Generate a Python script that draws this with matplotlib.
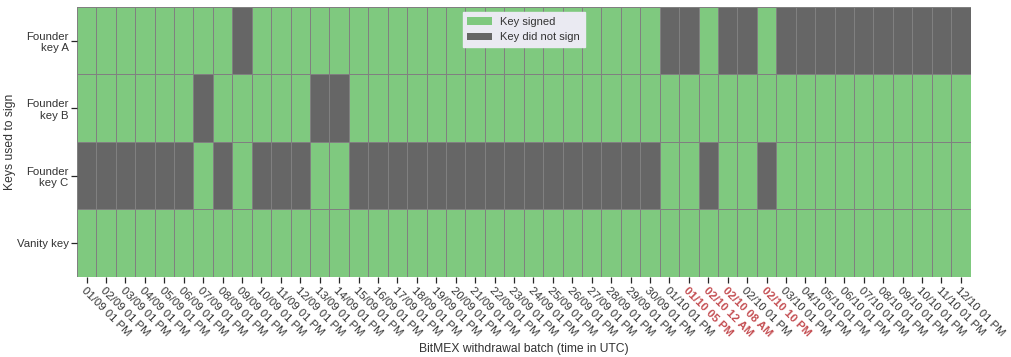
import numpy as np
import matplotlib
matplotlib.use('Agg')
import matplotlib.pyplot as plt
from matplotlib.colors import ListedColormap
from matplotlib.patches import Patch

# 行：签名用的密钥
keys = ['Founder\nkey A', 'Founder\nkey B', 'Founder\nkey C', 'Vanity key']

# 列：提现批次
batches = ['%02d/09 01 PM' % d for d in range(1, 31)]
batches += ['01/10 01 PM', '01/10 05 PM', '02/10 12 AM', '02/10 08 AM',
            '02/10 01 PM', '02/10 10 PM']
batches += ['%02d/10 01 PM' % d for d in range(3, 13)]

# 1 = 已签名, 0 = 未签名
key_a = [1, 1, 1, 1, 1, 1, 1, 1, 0, 1, 1, 1, 1, 1, 1, 1, 1, 1, 1, 1,
         1, 1, 1, 1, 1, 1, 1, 1, 1, 1, 0, 0, 1, 0, 0, 1, 0, 0, 0, 0,
         0, 0, 0, 0, 0, 0]
key_b = [1, 1, 1, 1, 1, 1, 0, 1, 1, 1, 1, 1, 0, 0, 1, 1, 1, 1, 1, 1,
         1, 1, 1, 1, 1, 1, 1, 1, 1, 1, 1, 1, 1, 1, 1, 1, 1, 1, 1, 1,
         1, 1, 1, 1, 1, 1]
key_c = [0, 0, 0, 0, 0, 0, 1, 0, 1, 0, 0, 0, 1, 1, 0, 0, 0, 0, 0, 0,
         0, 0, 0, 0, 0, 0, 0, 0, 0, 0, 1, 1, 0, 1, 1, 0, 1, 1, 1, 1,
         1, 1, 1, 1, 1, 1]
vanity = [1] * 46

# 不是 01 PM 的批次用红色标出
odd_batches = ['01/10 05 PM', '02/10 12 AM', '02/10 08 AM', '02/10 10 PM']

green = '#7fc97f'
grey = '#666666'
red = '#c44e52'
text_col = '#333333'

plt.rcParams['font.family'] = ['Liberation Sans', 'DejaVu Sans']

data = np.array([key_a, key_b, key_c, vanity])

fig = plt.figure(figsize=(10.11, 3.57), dpi=100)
ax = fig.add_axes([0.076, 0.224, 0.884, 0.757])
ax.pcolormesh(data, cmap=ListedColormap([grey, green]), vmin=0, vmax=1,
              edgecolors='grey', linewidth=0.6)
ax.set_xlim(0, len(batches))
ax.set_ylim(len(keys), 0)

ax.set_xticks(np.arange(len(batches)) + 0.5)
ax.set_xticklabels(batches, rotation=-45, ha='left', rotation_mode='anchor',
                   fontsize=8.2, color=text_col)
for lbl in ax.get_xticklabels():
    if lbl.get_text() in odd_batches:
        lbl.set_color(red)
        lbl.set_fontweight('bold')
ax.set_yticks(np.arange(len(keys)) + 0.5)
ax.set_yticklabels(keys, fontsize=8.2, color=text_col, ha='right')
ax.tick_params(length=4, width=0.9, color='#262626', pad=2)

for s in ax.spines.values():
    s.set_visible(False)

ax.set_xlabel('BitMEX withdrawal batch (time in UTC)', fontsize=8.7,
              color=text_col)
ax.set_ylabel('Keys used to sign', fontsize=8.7, color=text_col)
ax.xaxis.set_label_coords(0.5, -0.245)
ax.yaxis.set_label_coords(-0.068, 0.5)

handles = [Patch(facecolor=green, label='Key signed'),
           Patch(facecolor=grey, label='Key did not sign')]
leg = ax.legend(handles=handles, loc='upper center', fontsize=8,
                facecolor='#eaeaf2', edgecolor='#eaeaf2', framealpha=1,
                fancybox=False, borderaxespad=0.5, handlelength=2.2)
for t in leg.get_texts():
    t.set_color(text_col)

plt.savefig('out.png', dpi=100)
